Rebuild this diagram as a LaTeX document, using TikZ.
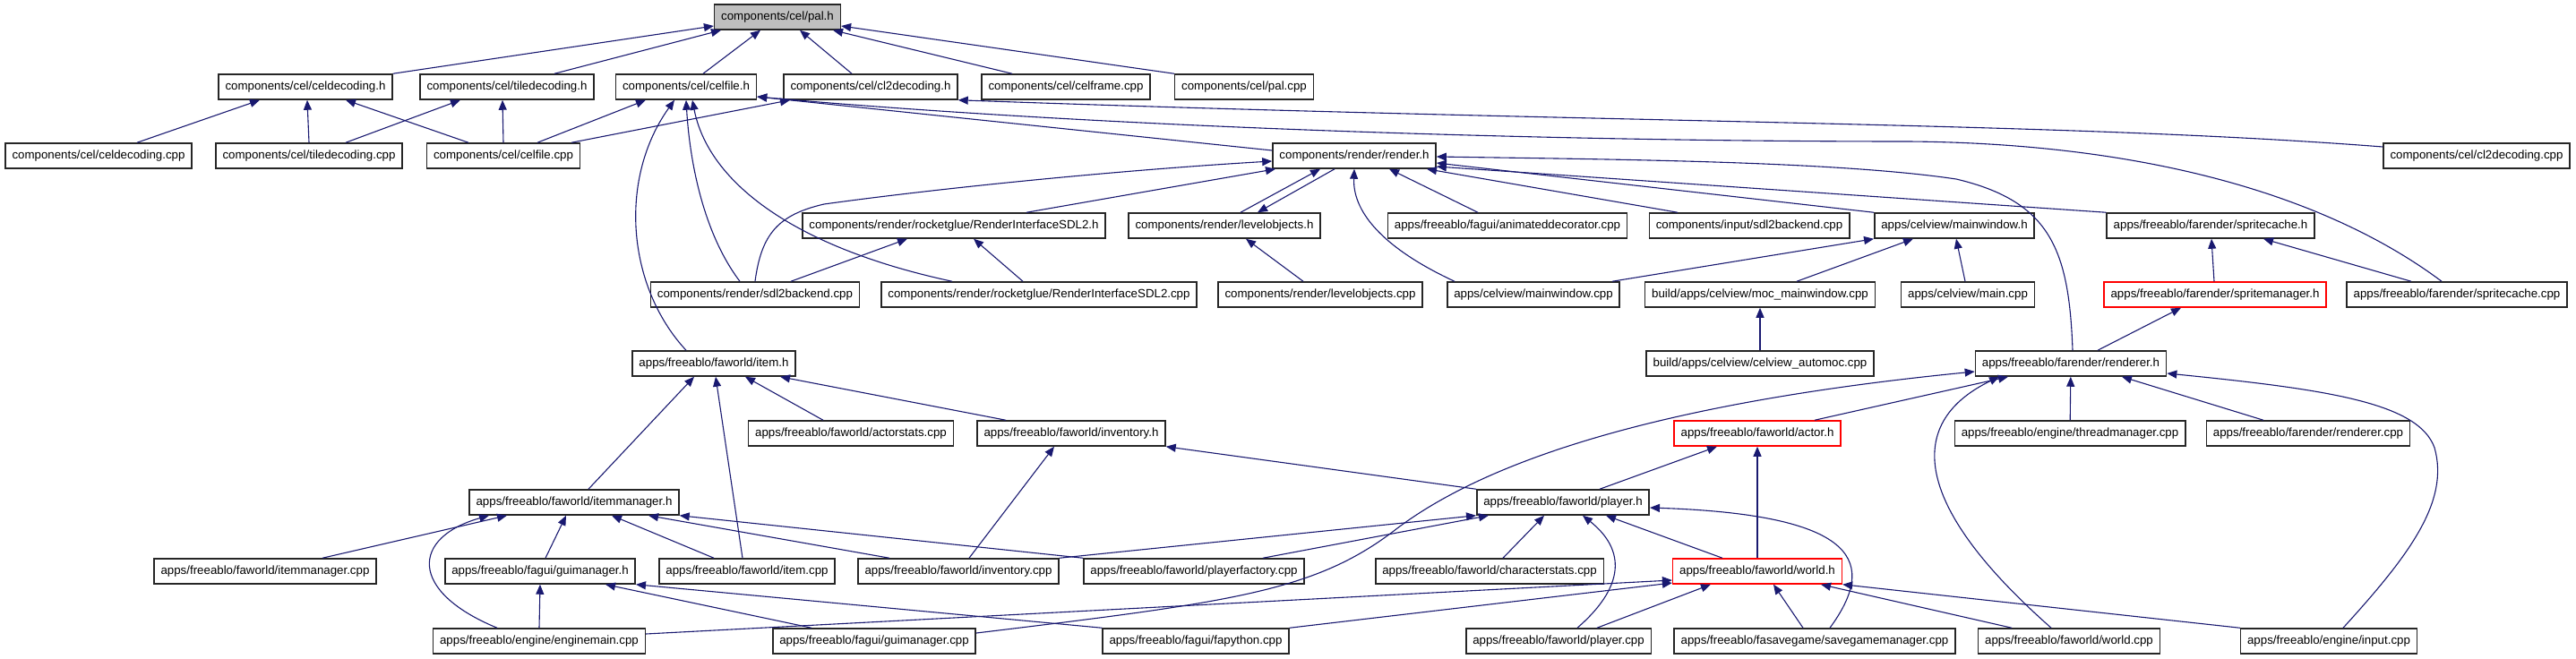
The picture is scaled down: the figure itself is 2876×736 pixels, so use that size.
\documentclass[tikz,border=0pt]{standalone}
\usepackage{fontspec}
\setmainfont{Liberation Sans}
\usepackage{xcolor}
\usetikzlibrary{arrows.meta,calc}
\definecolor{depblue}{HTML}{191970}
\definecolor{rootgrey}{HTML}{BFBFBF}
\definecolor{boxred}{HTML}{FF0000}

\begin{document}
\begin{tikzpicture}[
  x=1pt, y=-1pt,
  font=\fontsize{13.3}{15}\selectfont,
  >={Triangle[length=11pt,width=9pt]},
  file/.style={draw=black!85, line width=1.5pt, fill=white,
               inner xsep=7.5pt, inner ysep=0pt, minimum height=28pt},
  fileR/.style={file, draw=boxred},
  root/.style={file, fill=rootgrey},
  dep/.style={->, draw=depblue, line width=1.1pt}
]
\useasboundingbox (0,0) rectangle (2876,736);

% ==== row geometry (y of each rank)
\def\rowA{19}  \def\rowB{97}  \def\rowC{174} \def\rowD{252} \def\rowE{329}
\def\rowF{406} \def\rowG{484} \def\rowH{561} \def\rowI{638} \def\rowJ{716}

% ==== the header itself
\node[root] (pal) at (868,\rowA) {components/cel/pal.h};

% ==== rank 2
\node[file] (celdech)  at (341,\rowB)  {components/cel/celdecoding.h};
\node[file] (tiledech) at (566,\rowB)  {components/cel/tiledecoding.h};
\node[file] (celfileh) at (766,\rowB)  {components/cel/celfile.h};
\node[file] (cltwoh)   at (972,\rowB)  {components/cel/cl2decoding.h};
\node[file] (celframe) at (1190,\rowB) {components/cel/celframe.cpp};
\node[file] (palcpp)   at (1389,\rowB) {components/cel/pal.cpp};

% ==== rank 3
\node[file] (celdeccpp)  at (110,\rowC)  {components/cel/celdecoding.cpp};
\node[file] (tiledeccpp) at (345,\rowC)  {components/cel/tiledecoding.cpp};
\node[file] (celfilecpp) at (562,\rowC)  {components/cel/celfile.cpp};
\node[file] (renderh)    at (1512,\rowC) {components/render/render.h};
\node[file] (cltwocpp)   at (2765,\rowC) {components/cel/cl2decoding.cpp};

% ==== rank 4
\node[file] (rifh)     at (1065,\rowD) {components/render/rocketglue/RenderInterfaceSDL2.h};
\node[file] (levobjh)  at (1367,\rowD) {components/render/levelobjects.h};
\node[file] (animdec)  at (1683,\rowD) {apps/freeablo/fagui/animateddecorator.cpp};
\node[file] (inpsdl)   at (1953,\rowD) {components/input/sdl2backend.cpp};
\node[file] (mainwinh) at (2182,\rowD) {apps/celview/mainwindow.h};
\node[file] (spcacheh) at (2468,\rowD) {apps/freeablo/farender/spritecache.h};

% ==== rank 5
\node[file]  (rensdl)     at (843,\rowE)  {components/render/sdl2backend.cpp};
\node[file]  (rifcpp)     at (1160,\rowE) {components/render/rocketglue/RenderInterfaceSDL2.cpp};
\node[file]  (levobjcpp)  at (1474,\rowE) {components/render/levelobjects.cpp};
\node[file]  (mainwincpp) at (1712,\rowE) {apps/celview/mainwindow.cpp};
\node[file]  (mocmain)    at (1965,\rowE) {build/apps/celview/moc\_mainwindow.cpp};
\node[file]  (maincpp)    at (2197,\rowE) {apps/celview/main.cpp};
\node[fileR] (spmgrh)     at (2473,\rowE) {apps/freeablo/farender/spritemanager.h};
\node[file]  (spcachecpp) at (2743,\rowE) {apps/freeablo/farender/spritecache.cpp};

% ==== rank 6
\node[file] (itemh)     at (797,\rowF)  {apps/freeablo/faworld/item.h};
\node[file] (automoc)   at (1965,\rowF) {build/apps/celview/celview\_automoc.cpp};
\node[file] (rendererh) at (2312,\rowF) {apps/freeablo/farender/renderer.h};

% ==== rank 7
\node[file]  (actorstats)  at (950,\rowG)  {apps/freeablo/faworld/actorstats.cpp};
\node[file]  (invh)        at (1196,\rowG) {apps/freeablo/faworld/inventory.h};
\node[fileR] (actorh)      at (1962,\rowG) {apps/freeablo/faworld/actor.h};
\node[file]  (threadmgr)   at (2311,\rowG) {apps/freeablo/engine/threadmanager.cpp};
\node[file]  (renderercpp) at (2577,\rowG) {apps/freeablo/farender/renderer.cpp};

% ==== rank 8
\node[file] (itemmgrh) at (641,\rowH)  {apps/freeablo/faworld/itemmanager.h};
\node[file] (playerh)  at (1745,\rowH) {apps/freeablo/faworld/player.h};

% ==== rank 9
\node[file]  (itemmgrcpp) at (296,\rowI)  {apps/freeablo/faworld/itemmanager.cpp};
\node[file]  (guimgrh)    at (603,\rowI)  {apps/freeablo/fagui/guimanager.h};
\node[file]  (itemcpp)    at (834,\rowI)  {apps/freeablo/faworld/item.cpp};
\node[file]  (invcpp)     at (1070,\rowI) {apps/freeablo/faworld/inventory.cpp};
\node[file]  (plfactory)  at (1333,\rowI) {apps/freeablo/faworld/playerfactory.cpp};
\node[file]  (charstats)  at (1663,\rowI) {apps/freeablo/faworld/characterstats.cpp};
\node[fileR] (worldh)     at (1962,\rowI) {apps/freeablo/faworld/world.h};

% ==== rank 10
\node[file] (enginemain) at (602,\rowJ)  {apps/freeablo/engine/enginemain.cpp};
\node[file] (guimgrcpp)  at (976,\rowJ)  {apps/freeablo/fagui/guimanager.cpp};
\node[file] (fapython)   at (1335,\rowJ) {apps/freeablo/fagui/fapython.cpp};
\node[file] (playercpp)  at (1740,\rowJ) {apps/freeablo/faworld/player.cpp};
\node[file] (savegame)   at (2026,\rowJ) {apps/freeablo/fasavegame/savegamemanager.cpp};
\node[file] (worldcpp)   at (2310,\rowJ) {apps/freeablo/faworld/world.cpp};
\node[file] (inputcpp)   at (2600,\rowJ) {apps/freeablo/engine/input.cpp};

% ==== edges into pal.h
\draw[dep] (celdech.north east) -- ([yshift=-10pt]pal.west);
\draw[dep] ([xshift=53pt]tiledech.north) -- ([xshift=-63pt]pal.south);
\draw[dep] ([xshift=19pt]celfileh.north) -- ([xshift=-19pt]pal.south);
\draw[dep] ([xshift=-21pt]cltwoh.north) -- ([xshift=25pt]pal.south);
\draw[dep] ([xshift=-60pt]celframe.north) -- ([xshift=62pt]pal.south);
\draw[dep] (palcpp.north west) -- ([yshift=-10pt]pal.east);

% ==== celdecoding.h, tiledecoding.h
\draw[dep] ([xshift=43pt]celdeccpp.north) -- ([xshift=-51pt]celdech.south);
\draw[dep] (tiledeccpp.north) -- ([xshift=2pt]celdech.south);
\draw[dep] ([xshift=-39pt]celfilecpp.north) -- ([xshift=45pt]celdech.south);
\draw[dep] ([xshift=41pt]tiledeccpp.north) -- ([xshift=-52pt]tiledech.south);
\draw[dep] (celfilecpp.north) -- ([xshift=-5pt]tiledech.south);

% ==== celfile.h
\draw[dep] ([xshift=38pt]celfilecpp.north) -- ([xshift=-45pt]celfileh.south);
\draw[dep] ([xshift=-31pt]itemh.north) .. controls (700,320) and (690,200) .. ([xshift=-13pt]celfileh.south);
\draw[dep] ([xshift=-17pt]rensdl.north) .. controls (785,260) and (770,180) .. (celfileh.south);
\draw[dep] ([xshift=-97pt]rifcpp.north) .. controls (880,275) and (790,200) .. ([xshift=7pt]celfileh.south);
\draw[dep] ([yshift=6pt]renderh.west) -- ([yshift=-11pt]celfileh.east);
\draw[dep] ([xshift=-17pt]spcachecpp.north) .. controls (2600,220) and (2400,160) .. (2130,158)
           .. controls (1700,158) and (1200,140) .. ([yshift=-11pt]celfileh.east);

% ==== cl2decoding.h
\draw[dep] ([xshift=76pt]celfilecpp.north) -- ([xshift=-90pt]cltwoh.south);
\draw[dep] ([yshift=10pt]cltwocpp.west) .. controls (2300,136) and (1800,138) .. (cltwoh.south east);

% ==== render.h
\draw[dep] (rensdl.north) .. controls (850,262) and (868,240) .. (920,228)
           .. controls (1050,210) and (1250,190) .. ([yshift=-6pt]renderh.west);
\draw[dep] ([xshift=81pt]rifh.north) -- ([xshift=-88pt]renderh.south);
\draw[dep] ([xshift=18pt]levobjh.north) -- ([xshift=-38pt]renderh.south);
\draw[dep] ([xshift=-22pt]renderh.south) -- ([xshift=37pt]levobjh.north);
\draw[dep] ([xshift=-88pt]mainwincpp.north) .. controls (1550,280) and (1510,240) .. (renderh.south);
\draw[dep] ([xshift=-33pt]animdec.north) -- ([xshift=39pt]renderh.south);
\draw[dep] ([xshift=-80pt]inpsdl.north) -- ([xshift=81pt]renderh.south);
\draw[dep] (mainwinh.north west) -- ([yshift=-8pt]renderh.east);
\draw[dep] (spcacheh.north west) -- ([yshift=-12pt]renderh.east);
\draw[dep] ([xshift=2pt]rendererh.north) .. controls (2310,280) and (2290,225) .. (2184,200)
           .. controls (2050,180) and (1800,178) .. ([yshift=-1pt]renderh.east);

% ==== RenderInterfaceSDL2.h, levelobjects.h
\draw[dep] ([xshift=40pt]rensdl.north) -- ([xshift=-52pt]rifh.south);
\draw[dep] ([xshift=-18pt]rifcpp.north) -- ([xshift=22pt]rifh.south);
\draw[dep] ([xshift=-19pt]levobjcpp.north) -- ([xshift=24pt]levobjh.south);

% ==== celview
\draw[dep] ([xshift=88pt]mainwincpp.north) -- (mainwinh.south west);
\draw[dep] ([xshift=41pt]mocmain.north) -- ([xshift=-46pt]mainwinh.south);
\draw[dep] ([xshift=-3pt]maincpp.north) -- ([xshift=2pt]mainwinh.south);
\draw[dep] (automoc) -- (mocmain);

% ==== spritecache.h, spritemanager.h
\draw[dep] ([xshift=-1pt]spmgrh.north) -- ([xshift=1pt]spcacheh.south);
\draw[dep] ([xshift=-51pt]spcachecpp.north) -- ([xshift=59pt]spcacheh.south);
\draw[dep] ([xshift=30pt]rendererh.north) -- ([xshift=-38pt]spmgrh.south);

% ==== item.h, inventory.h, actor.h
\draw[dep] ([xshift=16pt]itemmgrh.north) -- ([xshift=-22pt]itemh.south);
\draw[dep] ([xshift=-5pt]itemcpp.north) -- ([xshift=2pt]itemh.south);
\draw[dep] ([xshift=-31pt]actorstats.north) -- ([xshift=35pt]itemh.south);
\draw[dep] ([xshift=-73pt]invh.north) -- ([xshift=74pt]itemh.south);
\draw[dep] ([xshift=12pt]invcpp.north) -- ([xshift=-19pt]invh.south);
\draw[dep] (playerh.north west) -- (invh.south east);
\draw[dep] ([xshift=41pt]playerh.north) -- ([xshift=-45pt]actorh.south);
\draw[dep] (worldh) -- (actorh);

% ==== renderer.h
\draw[dep] ([xshift=64pt]actorh.north) -- ([xshift=-70pt]rendererh.south);
\draw[dep] ([xshift=-20pt]worldcpp.north) .. controls (2130,560) and (2130,470) .. ([xshift=-80pt]rendererh.south);
\draw[dep] ([yshift=9pt]guimgrcpp.east) .. controls (1380,672) and (1470,660) .. (1560,590)
           .. controls (1660,515) and (1850,450) .. ([yshift=-9pt]rendererh.west);
\draw[dep] (threadmgr) -- (rendererh);
\draw[dep] ([xshift=-50pt]renderercpp.north) -- ([xshift=57pt]rendererh.south);
\draw[dep] ([xshift=16pt]inputcpp.north) .. controls (2690,620) and (2735,560) .. (2718,500)
           .. controls (2700,450) and (2600,435) .. ([yshift=-11pt]rendererh.east);

% ==== itemmanager.h, guimanager.h
\draw[dep] ([xshift=64pt]itemmgrcpp.north) -- ([xshift=-75pt]itemmgrh.south);
\draw[dep] ([xshift=-47pt]enginemain.north) .. controls (455,660) and (460,600) .. ([xshift=-95pt]itemmgrh.south);
\draw[dep] ([xshift=6pt]guimgrh.north) -- ([xshift=-9pt]itemmgrh.south);
\draw[dep] ([xshift=-37pt]itemcpp.north) -- ([xshift=42pt]itemmgrh.south);
\draw[dep] ([xshift=-77pt]invcpp.north) -- ([xshift=83pt]itemmgrh.south);
\draw[dep] (plfactory.north west) -- (itemmgrh.south east);
\draw[dep] (enginemain.north) -- (guimgrh.south);
\draw[dep] ([xshift=-70pt]guimgrcpp.north) -- ([xshift=73pt]guimgrh.south);
\draw[dep] (fapython.north west) -- (guimgrh.south east);

% ==== player.h
\draw[dep] (invcpp.north east) -- (playerh.south west);
\draw[dep] ([xshift=77pt]plfactory.north) -- ([xshift=-83pt]playerh.south);
\draw[dep] ([xshift=15pt]charstats.north) -- ([xshift=-21pt]playerh.south);
\draw[dep] ([xshift=21pt]playercpp.north) .. controls (1820,650) and (1810,610) .. ([xshift=22pt]playerh.south);
\draw[dep] ([xshift=-39pt]worldh.north) -- ([xshift=48pt]playerh.south);
\draw[dep] ([xshift=17pt]savegame.north) .. controls (2095,630) and (2080,575) .. ([yshift=-6pt]playerh.east);

% ==== world.h
\draw[dep] ([yshift=8pt]enginemain.east) -- ([yshift=-10pt]worldh.west);
\draw[dep] (fapython.north east) -- ([yshift=-13pt]worldh.west);
\draw[dep] ([xshift=43pt]playercpp.north) -- ([xshift=-52pt]worldh.south);
\draw[dep] ([xshift=-13pt]savegame.north) -- ([xshift=18pt]worldh.south);
\draw[dep] ([xshift=-64pt]worldcpp.north) -- ([xshift=71pt]worldh.south);
\draw[dep] (inputcpp.north west) -- (worldh.south east);

\end{tikzpicture}
\end{document}
